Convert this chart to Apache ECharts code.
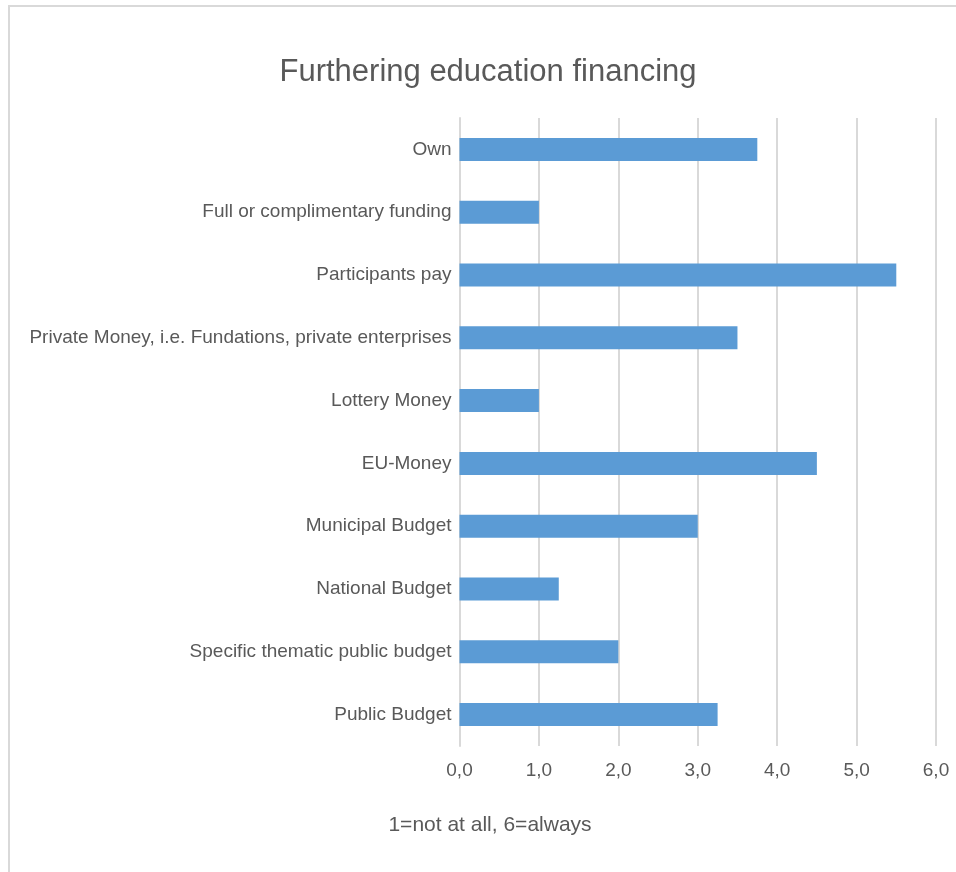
<!DOCTYPE html>
<html>
<head>
<meta charset="utf-8">
<style>
  html, body { margin: 0; padding: 0; background: #fff; }
  #chart { width: 956px; height: 872px; }
</style>
<script src="https://cdn.jsdelivr.net/npm/echarts@6/dist/echarts.min.js"></script>
</head>
<body>
<div id="chart"></div>
<script>
// Funding sources, listed top to bottom
const categories = [
  'Own',
  'Full or complimentary funding',
  'Participants pay',
  'Private Money, i.e. Fundations, private enterprises',
  'Lottery Money',
  'EU-Money',
  'Municipal Budget',
  'National Budget',
  'Specific thematic public budget',
  'Public Budget'
];
// Average frequency score (1=not at all, 6=always)
const scores = [3.75, 1.0, 5.5, 3.5, 1.0, 4.5, 3.0, 1.25, 2.0, 3.25];
const xTicks = [0, 1, 2, 3, 4, 5, 6];

const FONT = "'Liberation Sans Narrow', 'Liberation Sans', sans-serif";
const TEXT = '#595959';

const chart = echarts.init(document.getElementById('chart'), null, { renderer: 'canvas' });

chart.setOption({
  animation: false,
  grid: { left: 459.5, right: 20, top: 118, bottom: 126, containLabel: false },
  xAxis: {
    type: 'value',
    min: xTicks[0],
    max: xTicks[xTicks.length - 1],
    interval: 1,
    axisLine: { show: false },
    axisTick: { show: false },
    splitLine: { show: true, lineStyle: { color: '#d9d9d9', width: 2 } },
    axisLabel: {
      color: TEXT, fontFamily: FONT, fontSize: 19, margin: 15,
      formatter: v => v.toFixed(1).replace('.', ',')
    }
  },
  yAxis: {
    type: 'category',
    inverse: true,
    data: categories,
    axisLine: { show: true, lineStyle: { color: '#d9d9d9', width: 2 } },
    axisTick: { show: false },
    axisLabel: { color: TEXT, fontFamily: FONT, fontSize: 19, margin: 8 }
  },
  series: [{
    type: 'bar',
    data: scores,
    barWidth: 23,
    itemStyle: { color: '#5b9bd5' }
  }],
  graphic: [
    {
      type: 'rect',
      shape: { x: 9, y: 6, width: 1000, height: 1000 },
      style: { fill: 'none', stroke: '#d9d9d9', lineWidth: 2 },
      z: -1
    },
    {
      type: 'text',
      x: 488, y: 72,
      style: {
        text: 'Furthering education financing',
        fill: TEXT, font: "31px " + FONT,
        textAlign: 'center', textVerticalAlign: 'middle'
      }
    },
    {
      type: 'text',
      x: 490, y: 825,
      style: {
        text: '1=not at all, 6=always',
        fill: TEXT, font: "21px " + FONT,
        textAlign: 'center', textVerticalAlign: 'middle'
      }
    }
  ]
});
</script>
</body>
</html>
